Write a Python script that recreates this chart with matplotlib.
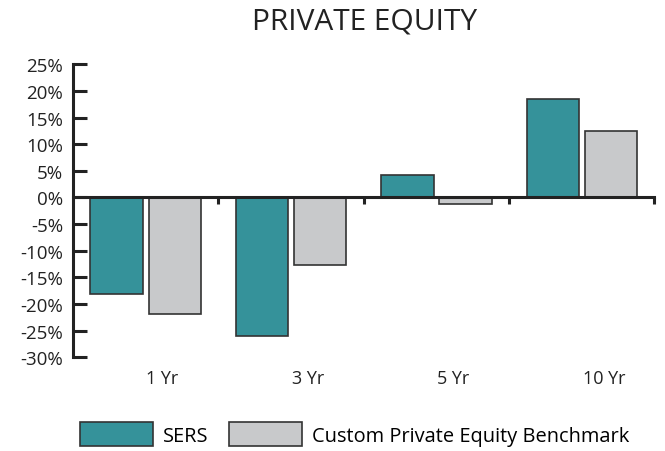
import matplotlib.pyplot as plt
import numpy as np

plt.rcParams['font.family'] = ['Open Sans', 'DejaVu Sans']

# data
periods = ['1 Yr', '3 Yr', '5 Yr', '10 Yr']
sers = [-18.1, -26.0, 4.3, 18.5]
benchmark = [-21.9, -12.7, -1.3, 12.4]
series_names = ['SERS', 'Custom Private Equity Benchmark']

teal = '#35929a'
grey = '#c8c9cb'
edge = '#333333'
ink = '#222222'

fig = plt.figure(figsize=(6.65, 4.52), dpi=100)
ax = fig.add_axes([0.1098, 0.2073, 0.8744, 0.6482])

x = np.arange(len(periods)) + 0.5
w = 0.36
b1 = ax.bar(x - 0.2, sers, w, color=teal, edgecolor=edge, linewidth=1.2, label=series_names[0], zorder=2)
b2 = ax.bar(x + 0.2, benchmark, w, color=grey, edgecolor=edge, linewidth=1.2, label=series_names[1], zorder=2)

ax.set_xlim(0, len(periods))
ax.set_ylim(-30, 25)
ax.set_yticks(np.arange(-30, 26, 5))
ax.set_yticklabels([f'{v}%' for v in range(-30, 26, 5)], fontsize=13.5)
ax.tick_params(axis='y', direction='in', length=10, width=2.2, pad=7, colors=ink)

ax.spines['top'].set_visible(False)
ax.spines['right'].set_visible(False)
ax.spines['bottom'].set_position(('data', 0))
for s in ('left', 'bottom'):
    ax.spines[s].set_linewidth(2.2)
    ax.spines[s].set_color(ink)
ax.spines['bottom'].set_zorder(3)

ax.set_xticks(np.arange(1, len(periods) + 1))
ax.set_xticklabels([])
ax.tick_params(axis='x', direction='out', length=5, width=2.2, colors=ink)

# period labels sit below the plot, left edge at the group centre
for i, lab in enumerate(periods):
    ax.text(x[i] + 0.005, -0.0707, lab, transform=ax.get_xaxis_transform(),
            ha='left', va='center', fontsize=13, color=ink)

fig.text(0.548, 0.951, 'PRIVATE EQUITY', ha='center', va='center', fontsize=21.5, color=ink)

fig.legend(handles=[b1, b2], loc='center', bbox_to_anchor=(0.533, 0.0376), ncol=2,
           frameon=False, fontsize=14.4, handlelength=3.65, handleheight=1.5,
           handletextpad=0.5, columnspacing=1.0, borderaxespad=0, borderpad=0)

fig.savefig('out.png', dpi=100)
